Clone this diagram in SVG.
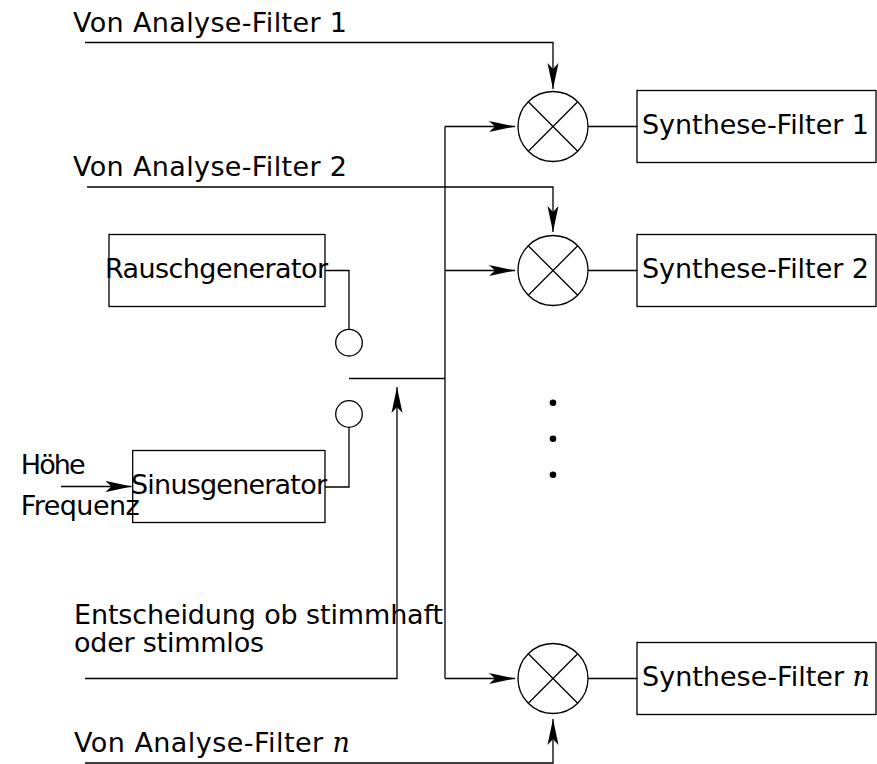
<svg xmlns="http://www.w3.org/2000/svg" width="877" height="764" viewBox="0 0 877 764">
<style>
.ln{fill:none;stroke:#000;stroke-width:1.3}
.bx{fill:#fff;stroke:#000;stroke-width:1.3}
.t{font-family:"DejaVu Sans","Liberation Sans",sans-serif;font-size:27px;fill:#000}
.it{font-family:"DejaVu Serif","Liberation Serif",serif;font-style:italic}
.ar{marker-end:url(#ah)}
</style>
<defs>
<marker id="ah" markerUnits="userSpaceOnUse" markerWidth="30" markerHeight="14" viewBox="0 0 30 14" refX="26" refY="7" orient="auto">
<path d="M0,1.5 L26,7 L0,12.5 L6,7 Z" fill="#000"/>
</marker>
<g id="mul">
<circle cx="0" cy="0" r="35" class="bx"/>
<path d="M-24.7,-24.7 L24.7,24.7 M-24.7,24.7 L24.7,-24.7" class="ln"/>
</g>
</defs>

<g id="connectors">
<path class="ln ar" d="M85,42.5 H553 V89"/>
<path class="ln ar" d="M87,187 H553 V232"/>
<path class="ln ar" d="M85,763 H553 V719"/>
<path class="ln" d="M445,126.5 V678.5"/>
<path class="ln ar" d="M445,126.5 H515"/>
<path class="ln ar" d="M445,270.5 H515"/>
<path class="ln ar" d="M445,678.5 H515"/>
<path class="ln" d="M349,378.5 H445"/>
<path class="ln ar" d="M85,678.5 H397 V387"/>
<path class="ln" d="M325,270.5 H349 V329.5"/>
<path class="ln" d="M325,487 H349 V427.5"/>
<path class="ln ar" d="M61,486.5 H131.5"/>
<path class="ln" d="M588,126.5 H637"/>
<path class="ln" d="M588,270.5 H637"/>
<path class="ln" d="M588,678.5 H637"/>
</g>

<g id="switch">
<circle cx="349" cy="342.7" r="13.3" class="bx"/>
<circle cx="349" cy="414" r="13.3" class="bx"/>
</g>

<g id="rausch">
<rect x="109" y="234.5" width="216" height="72" class="bx"/>
<text class="t" x="105" y="278" textLength="223" lengthAdjust="spacing">Rauschgenerator</text>
</g>

<g id="sinus">
<rect x="132.7" y="450.5" width="192.3" height="72" class="bx"/>
<text class="t" x="131" y="494" textLength="196" lengthAdjust="spacing">Sinusgenerator</text>
</g>

<g id="mul1"><use href="#mul" x="553" y="126.5"/></g>
<g id="mul2"><use href="#mul" x="553" y="270.5"/></g>
<g id="muln"><use href="#mul" x="553" y="678.5"/></g>

<g id="syn1">
<rect x="637" y="90.5" width="239" height="72" class="bx"/>
<text class="t" x="642" y="133.5" textLength="227" lengthAdjust="spacing">Synthese-Filter 1</text>
</g>
<g id="syn2">
<rect x="637" y="234.5" width="239" height="72" class="bx"/>
<text class="t" x="642" y="277.5" textLength="227" lengthAdjust="spacing">Synthese-Filter 2</text>
</g>
<g id="synn">
<rect x="637" y="642.5" width="239" height="72" class="bx"/>
<text class="t" x="642" y="685.5" textLength="228" lengthAdjust="spacing">Synthese-Filter <tspan class="it">n</tspan></text>
</g>

<g id="dots">
<circle cx="553" cy="402.7" r="3.3" fill="#000"/>
<circle cx="553" cy="438.7" r="3.3" fill="#000"/>
<circle cx="553" cy="474.7" r="3.3" fill="#000"/>
</g>

<g id="labels">
<text class="t" x="73" y="31.5" textLength="274" lengthAdjust="spacing">Von Analyse-Filter 1</text>
<text class="t" x="73" y="176" textLength="274" lengthAdjust="spacing">Von Analyse-Filter 2</text>
<text class="t" x="74" y="752" textLength="276" lengthAdjust="spacing">Von Analyse-Filter <tspan class="it">n</tspan></text>
<text class="t" x="74" y="624" textLength="369" lengthAdjust="spacing">Entscheidung ob stimmhaft</text>
<text class="t" x="74" y="652" textLength="190" lengthAdjust="spacing">oder stimmlos</text>
<text class="t" x="20.7" y="474" textLength="65" lengthAdjust="spacing">Höhe</text>
<text class="t" x="20.7" y="515" textLength="119" lengthAdjust="spacing">Frequenz</text>
</g>
</svg>
